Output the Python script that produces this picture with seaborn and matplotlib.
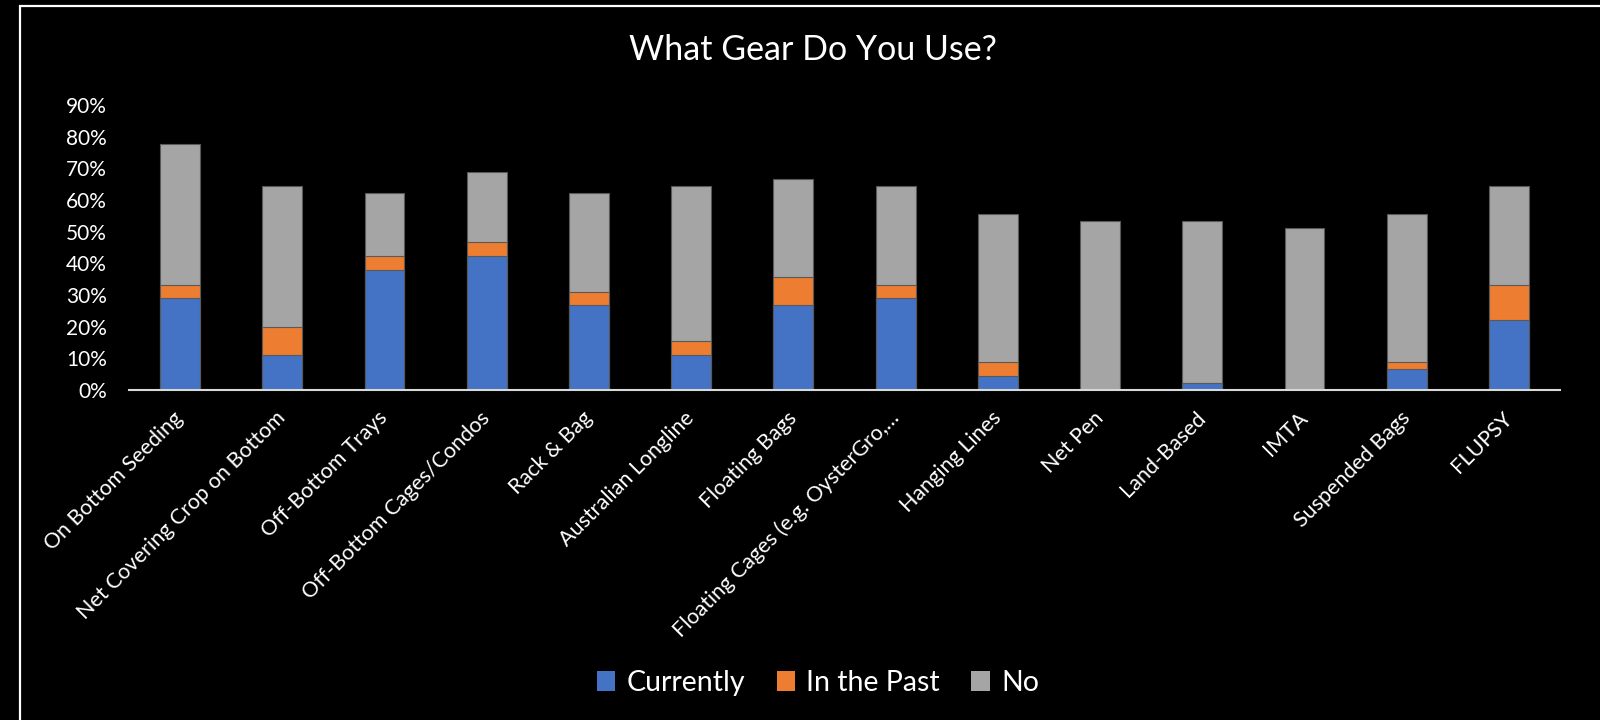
import matplotlib
matplotlib.use("Agg")
import matplotlib.pyplot as plt
from matplotlib.patches import Patch, Rectangle
import numpy as np
import pandas as pd
import seaborn as sns

# Survey responses (% of respondents) per gear type
categories = [
    "On Bottom Seeding",
    "Net Covering Crop on Bottom",
    "Off-Bottom Trays",
    "Off-Bottom Cages/Condos",
    "Rack & Bag",
    "Australian Longline",
    "Floating Bags",
    "Floating Cages (e.g. OysterGro,…",
    "Hanging Lines",
    "Net Pen",
    "Land-Based",
    "IMTA",
    "Suspended Bags",
    "FLUPSY",
]
currently = [28.9, 11.1, 37.8, 42.2, 26.7, 11.1, 26.7, 28.9, 4.4, 0.0, 2.2, 0.0, 6.7, 22.2]
in_the_past = [4.4, 8.9, 4.4, 4.4, 4.4, 4.4, 8.9, 4.4, 4.4, 0.0, 0.0, 0.0, 2.2, 11.1]
no = [44.4, 44.4, 20.0, 22.2, 31.1, 48.9, 31.1, 31.1, 46.7, 53.3, 51.1, 51.1, 46.7, 31.1]
series_names = ["Currently", "In the Past", "No"]
y_ticks = list(range(0, 100, 10))

colors = {"Currently": "#4472C4", "In the Past": "#ED7D31", "No": "#A5A5A5"}

df = pd.DataFrame({
    "gear": categories,
    "Currently": currently,
    "In the Past": in_the_past,
    "No": no,
})
# cumulative tops for stacking
df["top_cur"] = df["Currently"]
df["top_past"] = df["Currently"] + df["In the Past"]
df["top_no"] = df["top_past"] + df["No"]

sns.set_theme(style="white")
plt.rcParams["font.family"] = ["Lato", "DejaVu Sans"]

fig = plt.figure(figsize=(16, 7.2), dpi=100, facecolor="black")
ax = fig.add_axes([129 / 1600, 1 - 390 / 720, (1560 - 129) / 1600, (390 - 105) / 720])
ax.set_facecolor("black")

bar_w = 0.39
for col, name in [("top_no", "No"), ("top_past", "In the Past"), ("top_cur", "Currently")]:
    sns.barplot(data=df, x="gear", y=col, order=categories, color=colors[name],
                width=bar_w, edgecolor="#595959", linewidth=0.8, saturation=1, ax=ax)

ax.set_xlim(-0.5, len(categories) - 0.5)
ax.set_ylim(0, 90)
ax.set_yticks(y_ticks)
ax.set_yticklabels([f"{t}%" for t in y_ticks], color="white", fontsize=15)
ax.set_xticks(range(len(categories)))
ax.set_xticklabels(categories, rotation=45, ha="right", va="center",
                   rotation_mode="anchor", color="white", fontsize=15.5)
ax.tick_params(axis="y", length=0, pad=16)
ax.tick_params(axis="x", length=0, pad=18)
ax.set_xlabel("")
ax.set_ylabel("")
ax.grid(False)
for s in ["top", "right", "left"]:
    ax.spines[s].set_visible(False)
ax.spines["bottom"].set_color("#D9D9D9")
ax.spines["bottom"].set_linewidth(1.5)

fig.text(813 / 1600, 1 - 50 / 720, "What Gear Do You Use?", color="white",
         fontsize=24.5, ha="center", va="center")

handles = [Patch(facecolor=colors[n], edgecolor="none", label=n) for n in series_names]
leg = fig.legend(handles=handles, loc="center", bbox_to_anchor=(818 / 1600, 1 - 683 / 720),
                 ncol=3, frameon=False, fontsize=20.5, handlelength=0.65, handleheight=0.65,
                 handletextpad=0.4, columnspacing=1.1)
for t in leg.get_texts():
    t.set_color("white")

# white frame around the chart area
fig.add_artist(Rectangle((20 / 1600, -0.05), 1.2, 1 - 6 / 720 + 0.05,
                         transform=fig.transFigure, fill=False,
                         edgecolor="white", linewidth=1.6))

fig.savefig("out.png", dpi=100, facecolor="black")
